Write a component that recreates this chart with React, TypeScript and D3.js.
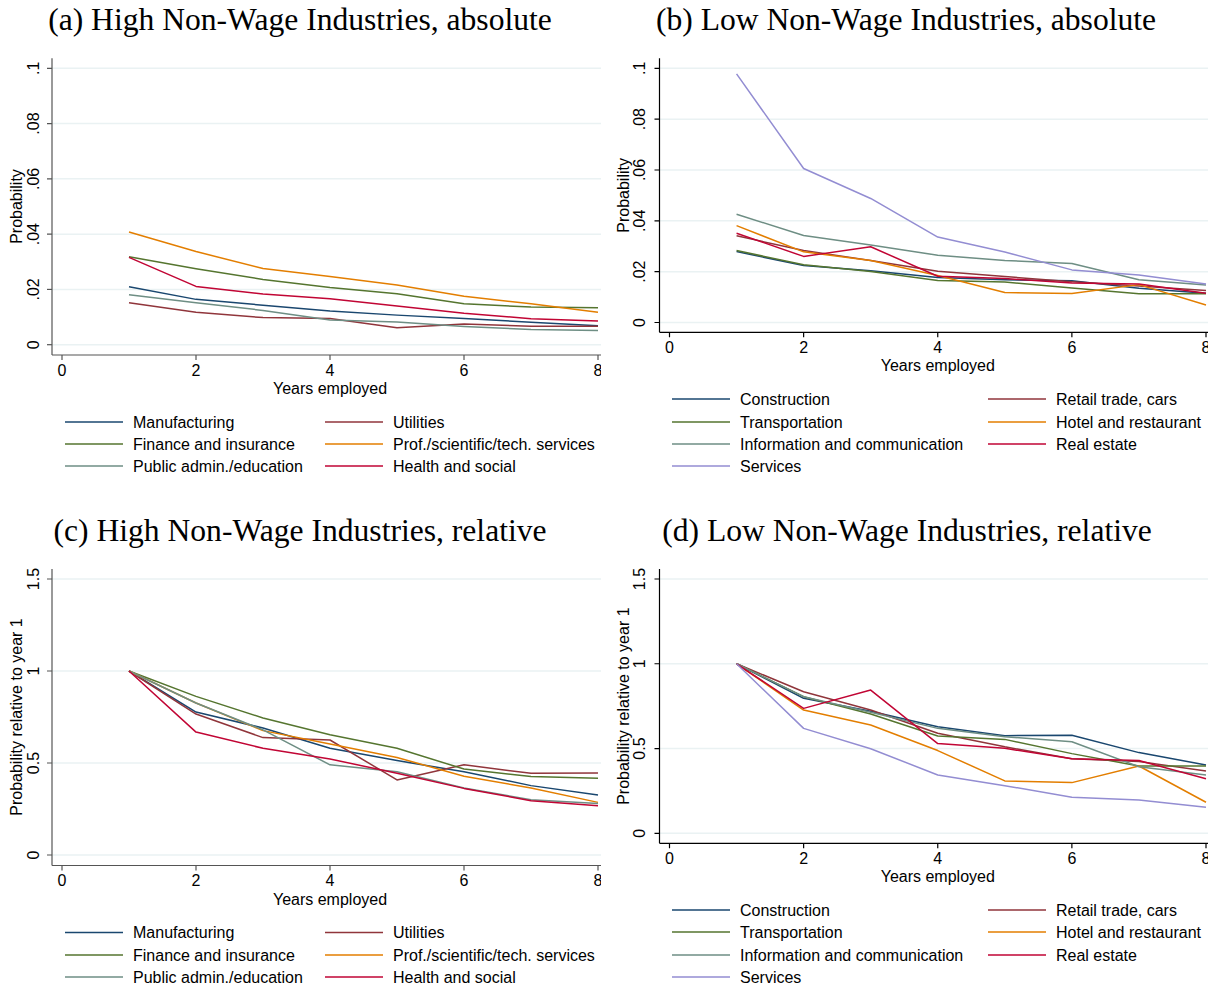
import React from "react";
import * as d3 from "d3";

// Years since hire
const years = [1, 2, 3, 4, 5, 6, 7, 8];

// High non-wage industries: absolute probability
const manufacturingAbs = [0.021, 0.0164, 0.0143, 0.0122, 0.0107, 0.0095, 0.0081, 0.0069];
const utilitiesAbs = [0.0152, 0.0117, 0.0098, 0.0095, 0.0061, 0.0075, 0.0067, 0.0067];
const financeAbs = [0.0318, 0.0275, 0.0236, 0.0207, 0.0184, 0.0148, 0.0136, 0.0134];
const profServicesAbs = [0.0408, 0.0337, 0.0276, 0.0247, 0.0216, 0.0175, 0.0148, 0.0117];
const publicAdminAbs = [0.0181, 0.0152, 0.0124, 0.0089, 0.0082, 0.0066, 0.0055, 0.0051];
const healthAbs = [0.0316, 0.0211, 0.0183, 0.0166, 0.014, 0.0114, 0.0094, 0.0086];

// High non-wage industries: relative to year 1
const manufacturingRel = [1, 0.777, 0.69, 0.58, 0.513, 0.453, 0.377, 0.326];
const utilitiesRel = [1, 0.766, 0.638, 0.625, 0.408, 0.49, 0.444, 0.446];
const financeRel = [1, 0.862, 0.745, 0.654, 0.58, 0.467, 0.426, 0.417];
const profServicesRel = [1, 0.826, 0.676, 0.603, 0.53, 0.428, 0.364, 0.286];
const publicAdminRel = [1, 0.826, 0.68, 0.49, 0.453, 0.364, 0.3, 0.28];
const healthRel = [1, 0.668, 0.58, 0.522, 0.444, 0.362, 0.295, 0.268];

// Low non-wage industries: absolute probability
const constructionAbs = [0.0279, 0.0224, 0.0204, 0.0177, 0.0168, 0.0164, 0.0135, 0.0115];
const retailAbs = [0.0341, 0.0283, 0.0244, 0.0202, 0.0181, 0.016, 0.0144, 0.0126];
const transportationAbs = [0.0283, 0.0227, 0.0201, 0.0165, 0.0159, 0.0136, 0.0113, 0.0113];
const hotelAbs = [0.0381, 0.0278, 0.0244, 0.0185, 0.0118, 0.0114, 0.0149, 0.0069];
const infoCommAbs = [0.0426, 0.0342, 0.0305, 0.0265, 0.0244, 0.0232, 0.0168, 0.0148];
const realEstateAbs = [0.0351, 0.026, 0.0298, 0.0182, 0.0173, 0.0155, 0.0151, 0.0115];
const servicesAbs = [0.0978, 0.0606, 0.0488, 0.0336, 0.0277, 0.0207, 0.0187, 0.0151];

// Low non-wage industries: relative to year 1
const constructionRel = [1, 0.796, 0.72, 0.629, 0.576, 0.578, 0.476, 0.403];
const retailRel = [1, 0.835, 0.727, 0.59, 0.51, 0.44, 0.423, 0.368];
const transportationRel = [1, 0.806, 0.704, 0.574, 0.554, 0.47, 0.397, 0.397];
const hotelRel = [1, 0.727, 0.639, 0.488, 0.309, 0.299, 0.397, 0.183];
const infoCommRel = [1, 0.806, 0.714, 0.619, 0.57, 0.54, 0.393, 0.344];
const realEstateRel = [1, 0.737, 0.845, 0.529, 0.501, 0.44, 0.429, 0.322];
const servicesRel = [1, 0.619, 0.499, 0.344, 0.281, 0.212, 0.197, 0.153];

const highNames = [
  "Manufacturing",
  "Utilities",
  "Finance and insurance",
  "Prof./scientific/tech. services",
  "Public admin./education",
  "Health and social",
];
const lowNames = [
  "Construction",
  "Retail trade, cars",
  "Transportation",
  "Hotel and restaurant",
  "Information and communication",
  "Real estate",
  "Services",
];

const xTicks = [0, 2, 4, 6, 8];
const absTicks = [0, 0.02, 0.04, 0.06, 0.08, 0.1];
const absTickLabels = ["0", ".02", ".04", ".06", ".08", ".1"];
const relTicks = [0, 0.5, 1, 1.5];
const relTickLabels = ["0", "0.5", "1", "1.5"];

// Stata s2color series colours
const palette = ["#1a476f", "#90353b", "#55752f", "#e37e00", "#6e8e84", "#c10534", "#938dd2"];

const SANS = "'Liberation Sans', Arial, sans-serif";
const SERIF = "'Liberation Serif', 'Times New Roman', serif";
const FS = 16;

type PanelProps = {
  id: string;
  title: string;
  titleX: number;
  titleY: number;
  series: number[][];
  names: string[];
  yTicks: number[];
  yTickLabels: string[];
  yDomain: [number, number];
  yTitle: string;
  spineX: number;
  x0: number;
  x8: number;
  clipRight: number;
  yTopPx: number;
  yZeroPx: number;
  spineY: number;
  spineColor: string;
  tickLabelX: number;
  yTitleX: number;
  legendRows: number[];
  legendCols: number[]; // line start of each column
};

function Panel(p: PanelProps) {
  const x = d3.scaleLinear().domain([0, 8]).range([p.x0, p.x8]);
  const y = d3.scaleLinear().domain(p.yDomain).range([p.yZeroPx, p.yTopPx]);
  const line = d3
    .line<number>()
    .x((_, i) => x(years[i]))
    .y((v) => y(v));
  const clipId = `clip-${p.id}`;
  const yMid = (p.yZeroPx + p.yTopPx) / 2;
  return (
    <g>
      <defs>
        <clipPath id={clipId}>
          <rect x={p.spineX - 60} y={p.yTopPx - 20} width={p.clipRight - p.spineX + 60} height={p.spineY - p.yTopPx + 60} />
        </clipPath>
      </defs>
      <text x={p.titleX} y={p.titleY} textAnchor="middle" fontFamily={SERIF} fontSize={31.6} fill="#000">
        {p.title}
      </text>
      <g clipPath={`url(#${clipId})`}>
        {p.yTicks.map((t) => (
          <line key={`g${t}`} x1={p.spineX} x2={p.clipRight} y1={y(t)} y2={y(t)} stroke="#eaf2f3" strokeWidth={1.5} />
        ))}
        {p.series.map((s, i) => (
          <path key={i} d={line(s) || ""} fill="none" stroke={palette[i]} strokeWidth={1.5} strokeLinejoin="round" />
        ))}
        {/* axes */}
        <line x1={p.spineX} x2={p.spineX} y1={p.yTopPx - 10} y2={p.spineY} stroke={p.spineColor} strokeWidth={1.2} />
        <line x1={p.spineX} x2={p.clipRight} y1={p.spineY} y2={p.spineY} stroke={p.spineColor} strokeWidth={1.2} />
        {p.yTicks.map((t, i) => (
          <g key={`y${t}`}>
            <line x1={p.spineX - 5} x2={p.spineX} y1={y(t)} y2={y(t)} stroke={p.spineColor} strokeWidth={1.2} />
            <text
              transform={`translate(${p.tickLabelX},${y(t)}) rotate(-90)`}
              textAnchor="middle"
              dy="0.35em"
              fontFamily={SANS}
              fontSize={FS}
              fill="#000"
            >
              {p.yTickLabels[i]}
            </text>
          </g>
        ))}
        {xTicks.map((t) => (
          <g key={`x${t}`}>
            <line x1={x(t)} x2={x(t)} y1={p.spineY} y2={p.spineY + 5} stroke={p.spineColor} strokeWidth={1.2} />
            <text x={x(t)} y={p.spineY + 15} dy="0.35em" textAnchor="middle" fontFamily={SANS} fontSize={FS} fill="#000">
              {t}
            </text>
          </g>
        ))}
      </g>
      <text x={(p.x0 + p.x8) / 2} y={p.spineY + 33.5} dy="0.35em" textAnchor="middle" fontFamily={SANS} fontSize={FS} fill="#000">
        Years employed
      </text>
      <text
        transform={`translate(${p.yTitleX},${yMid}) rotate(-90)`}
        textAnchor="middle"
        dy="0.35em"
        fontFamily={SANS}
        fontSize={FS}
        fill="#000"
      >
        {p.yTitle}
      </text>
      {p.names.map((n, i) => {
        const col = i % 2;
        const row = Math.floor(i / 2);
        const lx = p.legendCols[col];
        const ly = p.legendRows[row];
        return (
          <g key={n}>
            <line x1={lx} x2={lx + 58} y1={ly} y2={ly} stroke={palette[i]} strokeWidth={1.5} />
            <text x={lx + 68} y={ly} dy="0.35em" fontFamily={SANS} fontSize={FS} fill="#000">
              {n}
            </text>
          </g>
        );
      })}
    </g>
  );
}

export default function App() {
  const highAbs = [manufacturingAbs, utilitiesAbs, financeAbs, profServicesAbs, publicAdminAbs, healthAbs];
  const highRel = [manufacturingRel, utilitiesRel, financeRel, profServicesRel, publicAdminRel, healthRel];
  const lowAbs = [constructionAbs, retailAbs, transportationAbs, hotelAbs, infoCommAbs, realEstateAbs, servicesAbs];
  const lowRel = [constructionRel, retailRel, transportationRel, hotelRel, infoCommRel, realEstateRel, servicesRel];

  const left = { spineX: 52, x0: 62, x8: 598, clipRight: 601, spineColor: "#555", tickLabelX: 33, yTitleX: 16, legendCols: [65, 325] };
  const right = { spineX: 659.5, x0: 669.5, x8: 1206, clipRight: 1208, spineColor: "#000", tickLabelX: 639, yTitleX: 623, legendCols: [672, 988] };

  return (
    <svg width={1215} height={989} style={{ position: "absolute", left: 0, top: 0, background: "#fff" }}>
      <rect width={1215} height={989} fill="#fff" />
      <Panel
        id="a"
        title="(a) High Non-Wage Industries, absolute"
        titleX={300}
        titleY={30}
        series={highAbs}
        names={highNames}
        yTicks={absTicks}
        yTickLabels={absTickLabels}
        yDomain={[0, 0.1]}
        yTitle="Probability"
        yTopPx={68.3}
        yZeroPx={344.7}
        spineY={355}
        legendRows={[422, 444, 466]}
        {...left}
      />
      <Panel
        id="b"
        title="(b) Low Non-Wage Industries, absolute"
        titleX={906}
        titleY={30}
        series={lowAbs}
        names={lowNames}
        yTicks={absTicks}
        yTickLabels={absTickLabels}
        yDomain={[0, 0.1]}
        yTitle="Probability"
        yTopPx={68.3}
        yZeroPx={322.5}
        spineY={332.3}
        legendRows={[399, 422, 444, 466]}
        {...right}
      />
      <Panel
        id="c"
        title="(c) High Non-Wage Industries, relative"
        titleX={300}
        titleY={541}
        series={highRel}
        names={highNames}
        yTicks={relTicks}
        yTickLabels={relTickLabels}
        yDomain={[0, 1.5]}
        yTitle="Probability relative to year 1"
        yTopPx={579}
        yZeroPx={855}
        spineY={865.5}
        legendRows={[932.5, 955, 977]}
        {...left}
      />
      <Panel
        id="d"
        title="(d) Low Non-Wage Industries, relative"
        titleX={907}
        titleY={541}
        series={lowRel}
        names={lowNames}
        yTicks={relTicks}
        yTickLabels={relTickLabels}
        yDomain={[0, 1.5]}
        yTitle="Probability relative to year 1"
        yTopPx={579}
        yZeroPx={833.3}
        spineY={843.3}
        legendRows={[910, 932, 955, 977]}
        {...right}
      />
    </svg>
  );
}
